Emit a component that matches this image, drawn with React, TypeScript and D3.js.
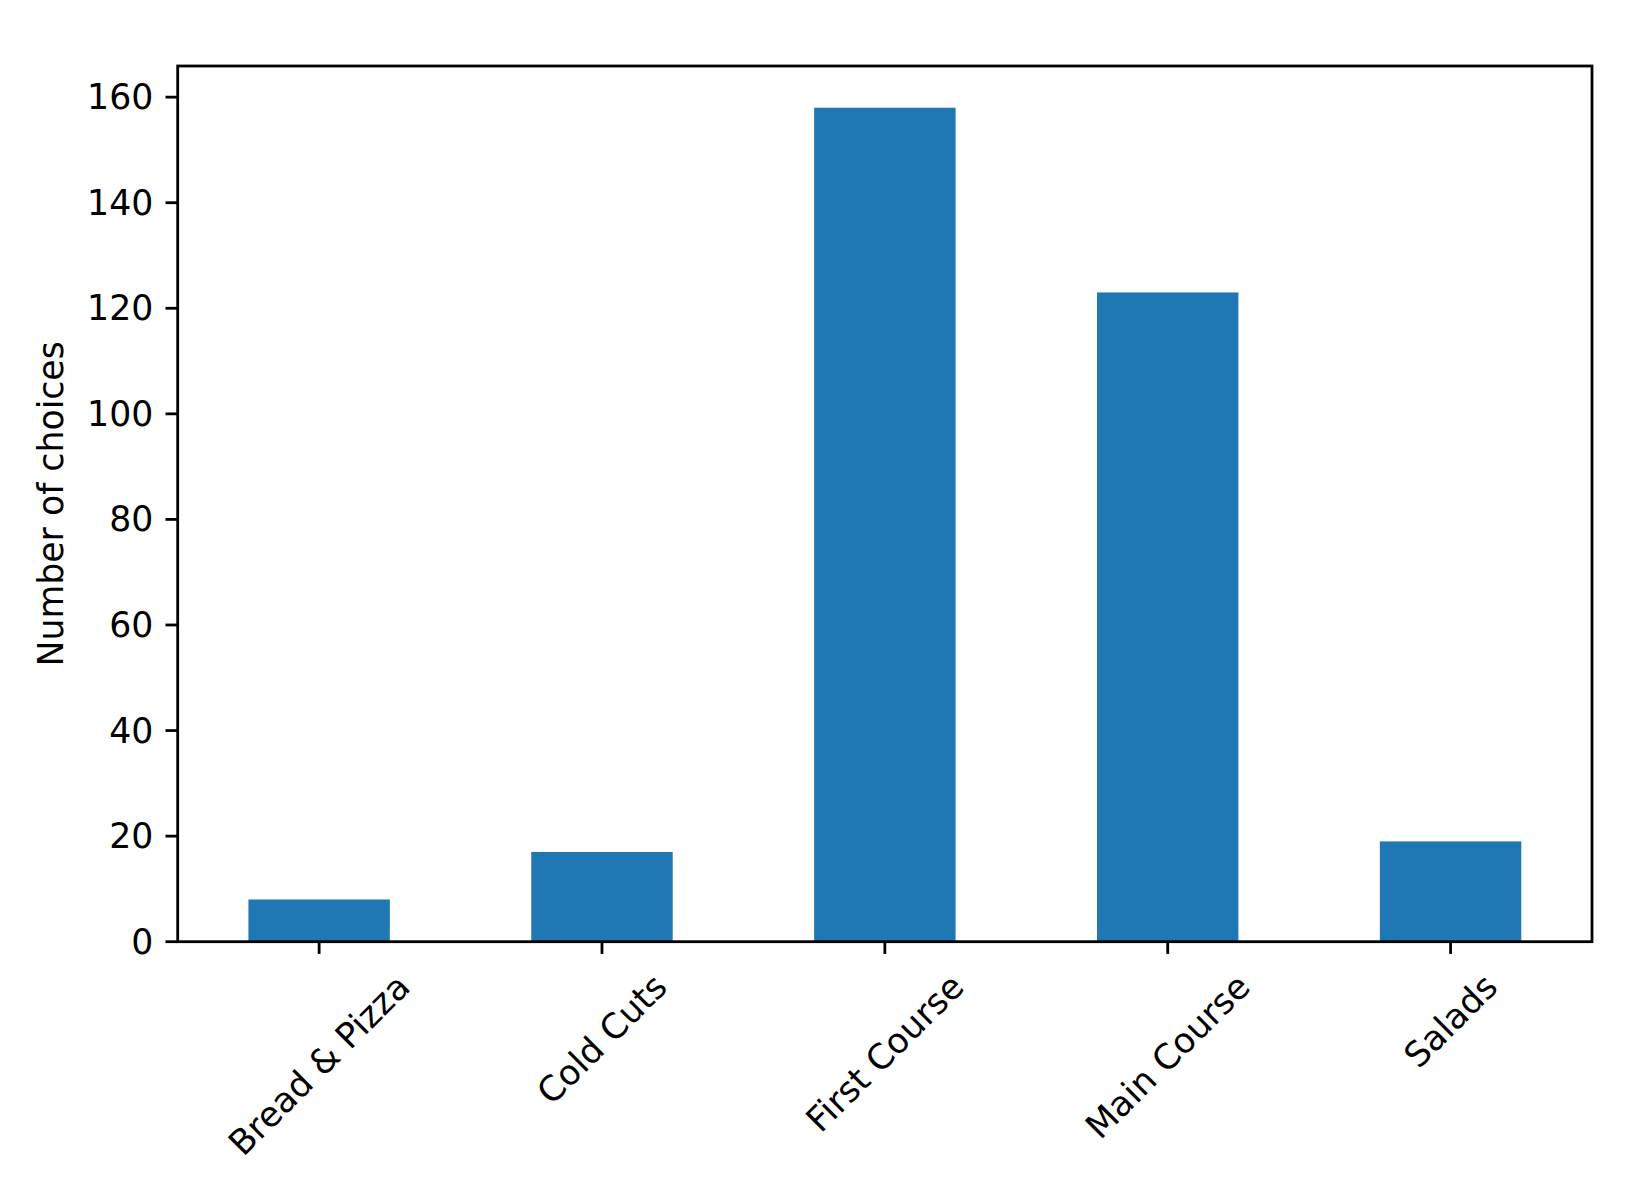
import React from "react";
import * as d3 from "d3";

const categories = ["Bread & Pizza", "Cold Cuts", "First Course", "Main Course", "Salads"];
const values = [8, 17, 158, 123, 19];
const yTicks = [0, 20, 40, 60, 80, 100, 120, 140, 160];
const yLabel = "Number of choices";

const W = 1647;
const H = 1183;
const FONT = "DejaVu Sans, sans-serif";
const FS = 34.7;

function measure(text: string): number {
  if (typeof document === "undefined") return text.length * FS * 0.6;
  const c = document.createElement("canvas");
  const ctx = c.getContext("2d");
  if (!ctx) return text.length * FS * 0.6;
  ctx.font = `${FS}px DejaVu Sans`;
  return ctx.measureText(text).width;
}

export default function App() {
  const left = 177.7, right = 1592, top = 66, bottom = 941.7;
  const x = d3.scaleLinear().domain([-0.5, categories.length - 0.5]).range([left, right]);
  const y = d3.scaleLinear().domain([0, 158 * 1.05]).range([bottom, top]);
  const barW = 0.5;
  const tickLen = 12.2;
  const pad = 12.2;
  const lineH = FS * 1.164;

  return (
    <div style={{ position: "absolute", left: 0, top: 0 }}>
      <svg width={W} height={H} style={{ display: "block", background: "#fff" }}>
        {values.map((v, i) => (
          <rect
            key={i}
            x={x(i - barW / 2)}
            width={x(i + barW / 2) - x(i - barW / 2)}
            y={y(v)}
            height={y(0) - y(v)}
            fill="#1f77b4"
          />
        ))}
        {/* y ticks */}
        {yTicks.map((t) => (
          <g key={t}>
            <line x1={left - tickLen} x2={left} y1={y(t)} y2={y(t)} stroke="#000" strokeWidth={2.8} />
            <text
              x={left - tickLen - pad}
              y={y(t)}
              textAnchor="end"
              dominantBaseline="central"
              fontFamily={FONT}
              fontSize={FS}
              fill="#000"
            >
              {t}
            </text>
          </g>
        ))}
        {/* x ticks */}
        {categories.map((c, i) => {
          const w = measure(c);
          const bh = (w + lineH) * Math.SQRT1_2;
          const cx = x(i);
          const cy = bottom + tickLen + pad + bh / 2;
          return (
            <g key={c}>
              <line x1={cx} x2={cx} y1={bottom} y2={bottom + tickLen} stroke="#000" strokeWidth={2.8} />
              <text
                x={cx}
                y={cy}
                textAnchor="middle"
                dominantBaseline="central"
                fontFamily={FONT}
                fontSize={FS}
                fill="#000"
                transform={`rotate(-45 ${cx} ${cy})`}
              >
                {c}
              </text>
            </g>
          );
        })}
        {/* spines */}
        <rect x={left} y={top} width={right - left} height={bottom - top} fill="none" stroke="#000" strokeWidth={2.8} />
        <text
          x={63}
          y={(top + bottom) / 2}
          textAnchor="middle"
          fontFamily={FONT}
          fontSize={FS}
          fill="#000"
          transform={`rotate(-90 63 ${(top + bottom) / 2})`}
        >
          {yLabel}
        </text>
      </svg>
    </div>
  );
}
